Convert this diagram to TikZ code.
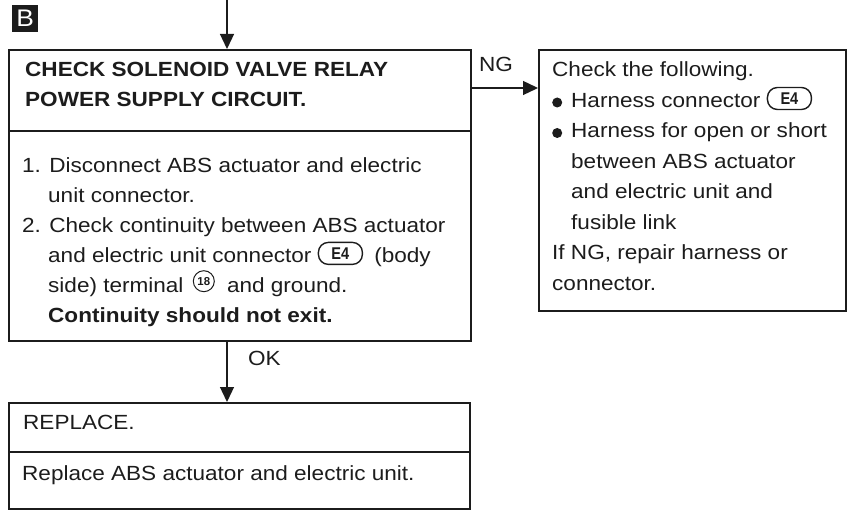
\documentclass[tikz,border=0pt]{standalone}
\usepackage{fontspec}
\setmainfont[FakeStretch=1.1]{Liberation Sans}
\usetikzlibrary{arrows.meta}
\definecolor{ink}{RGB}{28,28,28}
\newcommand\txtsize{\fontsize{20.5}{30}\selectfont}
\newcommand\conbadge[1]{\tikz[baseline=-9pt]\node[anchor=center,draw=ink,line width=1.4pt,rounded corners=10pt,minimum width=44pt,minimum height=22pt,inner sep=0pt,font=\fontsize{17}{17}\selectfont\bfseries](bdg) at (0pt,0pt) {\scalebox{0.78}[1]{#1}};}
\newcommand\termcircle[1]{\tikz[baseline=-11pt]\node[anchor=center,circle,draw=ink,line width=1pt,minimum size=21pt,inner sep=0pt,font=\fontsize{11.5}{11.5}\selectfont\bfseries](trm) at (0pt,0pt) {\scalebox{0.9}[1]{#1}};}
\newcommand\bul{\tikz[baseline=-5pt]\fill[ink] (0pt,0pt) circle (5pt);}
\begin{document}
\begin{tikzpicture}[x=1pt,y=-1pt,
  box/.style={draw=ink,line width=1.6pt,anchor=north west,inner sep=0pt},
  divider/.style={draw=ink,line width=2.6pt},
  arr/.style={draw=ink,line width=1.3pt,-{Triangle[length=15pt,width=14pt]}},
  txt/.style={anchor=base west,inner sep=0pt,text=ink,font=\txtsize},
  btxt/.style={anchor=base west,inner sep=0pt,text=ink,font=\txtsize\bfseries}]
\useasboundingbox (0,0) rectangle (850,518);

% label B
\node[fill=ink,text=white,minimum width=26pt,minimum height=27pt,inner sep=0pt,anchor=north west,font=\fontsize{24}{24}\selectfont] (blabel) at (12,5) {B};

% boxes
\node[box,minimum width=462pt,minimum height=291pt] (main) at (8,49) {};
\node[box,minimum width=307pt,minimum height=261pt] (chk) at (538,49) {};
\node[box,minimum width=461pt,minimum height=106pt] (rep) at (8,402) {};
\coordinate (mdiv) at (0,131);
\coordinate (rdiv) at (0,452);
\draw[divider] (main.west |- mdiv) -- (main.east |- mdiv);
\draw[divider] (rep.west |- rdiv) -- (rep.east |- rdiv);

% connectors
\coordinate (start) at (227,0);
\coordinate (ngy) at (0,88);
\draw[arr] (start) -- (start |- main.north);
\draw[arr] (main.south -| start) -- (rep.north -| start);
\draw[arr] (main.east |- ngy) -- (chk.west |- ngy);
\node[txt] (ng) at (479,72) {NG};
\node[txt] (ok) at (248,365) {OK};

% main box text
\node[btxt] (t1) at (25,77) {CHECK SOLENOID VALVE RELAY};
\node[btxt] (t2) at (25,107) {POWER SUPPLY CIRCUIT.};
\node[txt] (m1) at (22,173) {1. Disconnect ABS actuator and electric};
\node[txt] (m2) at (48,202.8) {unit connector.};
\node[txt] (m3) at (22,232.6) {2. Check continuity between ABS actuator};
\node[txt] (m4) at (48,262.4) {and electric unit connector \conbadge{E4}\hspace{5pt} (body};
\node[txt] (m5) at (48,292.2) {side) terminal \hspace{3pt}\termcircle{18}\hspace{6pt} and ground.};
\node[btxt] (m6) at (48,322) {Continuity should not exit.};

% right box text
\node[txt] (c1) at (552,77) {Check the following.};
\node[txt] (c2) at (552,107.5) {\bul\hspace{9pt}Harness connector \conbadge{E4}};
\node[txt] (c3) at (552,138) {\bul\hspace{9pt}Harness for open or short};
\node[txt] (c4) at (571,168.5) {between ABS actuator};
\node[txt] (c5) at (571,199) {and electric unit and};
\node[txt] (c6) at (571,229.5) {fusible link};
\node[txt] (c7) at (552,260) {If NG, repair harness or};
\node[txt] (c8) at (552,290.5) {connector.};

% replace box text
\node[txt] (r1) at (23,429) {REPLACE.};
\node[txt] (r2) at (22,480) {Replace ABS actuator and electric unit.};
\end{tikzpicture}
\end{document}
